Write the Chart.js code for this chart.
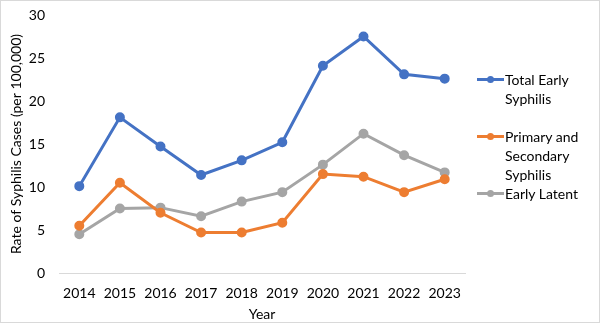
<!DOCTYPE html>
<html>
<head>
<meta charset="utf-8">
<script src="https://cdn.jsdelivr.net/npm/chart.js@4"></script>
<style>
    body { margin: 0; background: #fff; }
    #wrap { position: relative; width: 600px; height: 323px; }
    #frame { position: absolute; left: 0; top: 0; width: 600px; height: 323px; box-sizing: border-box; border: 1px solid #d9d9d9; pointer-events: none; }
    #legend { position: absolute; left: 477px; top: 70px; font-family: Lato, sans-serif; font-size: 14px; color: #000; }
    .item { display: flex; align-items: flex-start; line-height: 19px; }
    .swatch { position: relative; width: 28px; height: 19px; flex: none; }
    .swatch .ln { position: absolute; left: 0; top: 8px; width: 27px; height: 3px; }
    .swatch .dot { position: absolute; left: 10px; top: 6px; width: 7px; height: 7px; border-radius: 50%; }
    .txt { width: 85px; }
</style>
</head>
<body>
<div id="wrap">
    <canvas id="grafico" width="600" height="323"></canvas>
    <div id="legend"></div>
    <div id="frame"></div>
</div>
<script>
const anos = ['2014', '2015', '2016', '2017', '2018', '2019', '2020', '2021', '2022', '2023'];
const totalEarly = [10.1, 18.1, 14.7, 11.4, 13.1, 15.2, 24.1, 27.5, 23.1, 22.6];
const primarySecondary = [5.5, 10.5, 7.0, 4.7, 4.7, 5.85, 11.5, 11.2, 9.4, 10.9];
const earlyLatent = [4.5, 7.5, 7.6, 6.6, 8.3, 9.4, 12.6, 16.2, 13.7, 11.7];
const series = ['Total Early Syphilis', 'Primary and Secondary Syphilis', 'Early Latent'];
const cores = ['#4472C4', '#ED7D31', '#A5A5A5'];

function serie(i, data) {
    return {
        label: series[i],
        data: data,
        borderColor: cores[i],
        backgroundColor: cores[i],
        borderWidth: 3,
        pointRadius: 3.5,
        pointHoverRadius: 3.5,
        tension: 0
    };
}

const fonte = { family: 'Lato, sans-serif', size: 14 };

const ctx = document.getElementById('grafico');
const myChart = new Chart(ctx, {
    type: 'line',
    data: {
        labels: anos,
        datasets: [serie(0, totalEarly), serie(1, primarySecondary), serie(2, earlyLatent)]
    },
    options: {
        responsive: false,
        animation: false,
        layout: { padding: { left: 0, right: 135, top: 15, bottom: 0 } },
        scales: {
            x: {
                offset: true,
                grid: { display: false, drawTicks: false },
                border: { display: true, color: '#d9d9d9', width: 1 },
                ticks: { color: '#000', font: fonte, padding: 12, maxRotation: 0 },
                title: { display: true, text: 'Year', color: '#000', font: fonte, padding: 0 },
                afterFit: function (s) { s.height = 50; }
            },
            y: {
                min: 0,
                max: 30,
                ticks: { stepSize: 5, color: '#000', font: fonte, padding: 14 },
                grid: { display: false, drawTicks: false },
                border: { display: false },
                title: { display: true, text: 'Rate of Syphilis Cases (per 100,000)', color: '#000', font: fonte, padding: { top: 8, bottom: 0 } },
                afterFit: function (s) {
                    s.width = 59;
                    s.paddingTop = 0;
                    s.paddingBottom = 0;
                }
            }
        },
        plugins: {
            legend: { display: false },
            tooltip: { enabled: false }
        }
    }
});

// legenda à direita, com quebra de linha
const leg = document.getElementById('legend');
series.forEach(function (nome, i) {
    const d = document.createElement('div');
    d.className = 'item';
    d.style.marginBottom = i === 0 ? '19px' : '0px';
    d.innerHTML = '<div class="swatch"><div class="ln" style="background:' + cores[i] + '"></div>' +
        '<div class="dot" style="background:' + cores[i] + '"></div></div><div class="txt">' + nome + '</div>';
    leg.appendChild(d);
});
</script>
</body>
</html>
